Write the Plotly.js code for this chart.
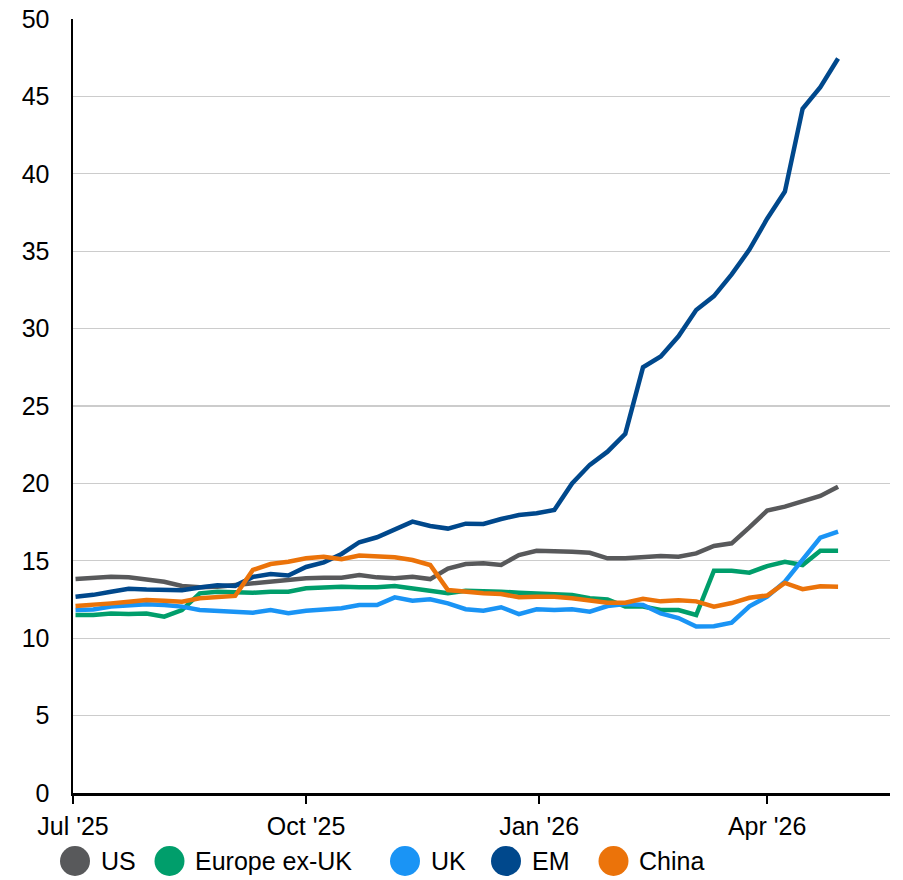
<!DOCTYPE html>
<html>
<head>
<meta charset="utf-8">
<script src="https://cdn.plot.ly/plotly-3.0.1.min.js"></script>
<style>
  html, body { margin: 0; padding: 0; background: #fff; }
  #chart { width: 903px; height: 880px; }
</style>
</head>
<body>
<div id="chart"></div>
<script>
// ---- Data (weekly observations) ----
var dates = [
  '2025-07-02','2025-07-09','2025-07-16','2025-07-23','2025-07-30',
  '2025-08-06','2025-08-13','2025-08-20','2025-08-27',
  '2025-09-03','2025-09-10','2025-09-17','2025-09-24',
  '2025-10-01','2025-10-08','2025-10-15','2025-10-22','2025-10-29',
  '2025-11-05','2025-11-12','2025-11-19','2025-11-26',
  '2025-12-03','2025-12-10','2025-12-17','2025-12-24','2025-12-31',
  '2026-01-07','2026-01-14','2026-01-21','2026-01-28',
  '2026-02-04','2026-02-11','2026-02-18','2026-02-25',
  '2026-03-04','2026-03-11','2026-03-18','2026-03-25',
  '2026-04-01','2026-04-08','2026-04-15','2026-04-22','2026-04-29'
];

var us = [13.82,13.87,13.97,13.93,13.82,13.65,13.37,13.29,13.33,13.44,
          13.55,13.65,13.72,13.87,13.91,13.91,14.08,13.93,13.87,13.97,
          13.82,14.50,14.79,14.84,14.73,15.37,15.65,15.65,15.59,15.52,
          15.16,15.16,15.26,15.31,15.26,15.48,15.96,16.13,17.16,18.24,
          18.50,18.82,19.19,19.79];

var europeExUK = [11.50,11.50,11.60,11.56,11.60,11.39,11.82,12.90,13.00,12.94,
          12.94,13.00,13.00,13.22,13.29,13.33,13.29,13.29,13.37,13.22,
          13.07,12.90,13.07,13.00,13.00,12.94,12.90,12.86,12.79,12.58,
          12.51,12.04,12.04,11.82,11.82,11.50,14.36,14.36,14.23,14.66,
          14.94,14.73,15.65,15.65];

var uk = [11.82,11.86,12.04,12.08,12.19,12.14,12.04,11.82,11.76,11.71,
          11.65,11.82,11.61,11.78,11.87,11.93,12.14,12.14,12.64,12.42,
          12.51,12.25,11.87,11.78,12.00,11.56,11.87,11.82,11.87,11.71,
          12.08,12.21,12.14,11.60,11.30,10.75,10.77,11.00,12.06,12.68,
          13.65,15.10,16.50,16.88];

var em = [12.68,12.80,13.00,13.20,13.15,13.10,13.10,13.28,13.42,13.38,
          13.96,14.15,14.05,14.60,14.90,15.44,16.20,16.52,17.03,17.53,
          17.25,17.08,17.40,17.38,17.70,17.96,18.07,18.28,20.00,21.20,
          22.05,23.20,27.50,28.20,29.50,31.20,32.10,33.50,35.10,37.10,
          38.85,44.20,45.60,47.45];

var china = [12.08,12.14,12.25,12.36,12.47,12.42,12.36,12.58,12.64,12.73,
          14.41,14.79,14.94,15.16,15.26,15.10,15.34,15.31,15.23,15.05,
          14.73,13.11,13.00,12.90,12.86,12.64,12.68,12.68,12.58,12.47,
          12.29,12.29,12.55,12.38,12.45,12.38,12.04,12.27,12.61,12.76,
          13.57,13.17,13.35,13.33];

var seriesNames = ['US', 'Europe ex-UK', 'UK', 'EM', 'China'];
var tickDates = ['2025-07-01', '2025-10-01', '2026-01-01', '2026-04-01'];
var tickLabels = ["Jul '25", "Oct '25", "Jan '26", "Apr '26"];
var yTicks = [0, 5, 10, 15, 20, 25, 30, 35, 40, 45, 50];

// ---- Styling ----
var seriesValues = [us, europeExUK, uk, em, china];
var colors = ['#58595b', '#009e6b', '#1a94f5', '#00488c', '#eb730a'];
var FONT = 'Arial, "Liberation Sans", sans-serif';
var W = 903, H = 880, ML = 73, MR = 13, MT = 19, MB = 87;
var plotW = W - ML - MR, plotH = H - MT - MB;

var traces = seriesValues.map(function (vals, k) {
  return {
    type: 'scatter', mode: 'lines',
    x: dates, y: vals, name: seriesNames[k],
    line: { color: colors[k], width: 4.5 },
    showlegend: false, hoverinfo: 'x+y+name'
  };
});

// Manual legend (large circular swatches)
var legendCircleX = [75, 169.5, 405, 506, 613.5];
var legendTextX = [98.5, 192.5, 428.5, 529.5, 636.5];
var legendCY = 861;
function pxX(p) { return (p - ML) / plotW; }
function pxY(p) { return (H - MB - p) / plotH; }

var shapes = [];
var annotations = [];
seriesNames.forEach(function (nm, k) {
  shapes.push({
    type: 'circle', xref: 'paper', yref: 'paper',
    xsizemode: 'pixel', ysizemode: 'pixel',
    xanchor: pxX(legendCircleX[k]), yanchor: pxY(legendCY),
    x0: -15, x1: 15, y0: -15, y1: 15,
    fillcolor: colors[k], line: { width: 0 }
  });
  annotations.push({
    text: nm, xref: 'paper', yref: 'paper',
    x: pxX(legendTextX[k]), y: pxY(legendCY),
    xanchor: 'left', yanchor: 'middle', showarrow: false,
    font: { family: FONT, size: 25, color: '#000' }
  });
});

var layout = {
  width: W, height: H,
  margin: { l: ML, r: MR, t: MT, b: MB, pad: 0 },
  paper_bgcolor: '#fff', plot_bgcolor: '#fff',
  font: { family: FONT, size: 25, color: '#000' },
  showlegend: false,
  xaxis: {
    type: 'date',
    range: ['2025-07-01', '2026-05-19 12:00'],
    tickmode: 'array', tickvals: tickDates, ticktext: tickLabels,
    ticks: 'outside', ticklen: 8, tickwidth: 2, tickcolor: '#000',
    showline: true, linecolor: '#000', linewidth: 2.5,
    showgrid: false, zeroline: false,
    tickfont: { family: FONT, size: 25, color: '#000' },
    ticklabelstandoff: 1
  },
  yaxis: {
    range: [0, 50],
    tickmode: 'array', tickvals: yTicks,
    ticks: '', showline: true, linecolor: '#000', linewidth: 2.5,
    showgrid: true, gridcolor: '#cccccc', gridwidth: 1.2,
    zeroline: false,
    tickfont: { family: FONT, size: 25, color: '#000' },
    ticklabelstandoff: 16
  },
  shapes: shapes,
  annotations: annotations
};

Plotly.newPlot('chart', traces, layout, { displayModeBar: false, staticPlot: true });
</script>
</body>
</html>
